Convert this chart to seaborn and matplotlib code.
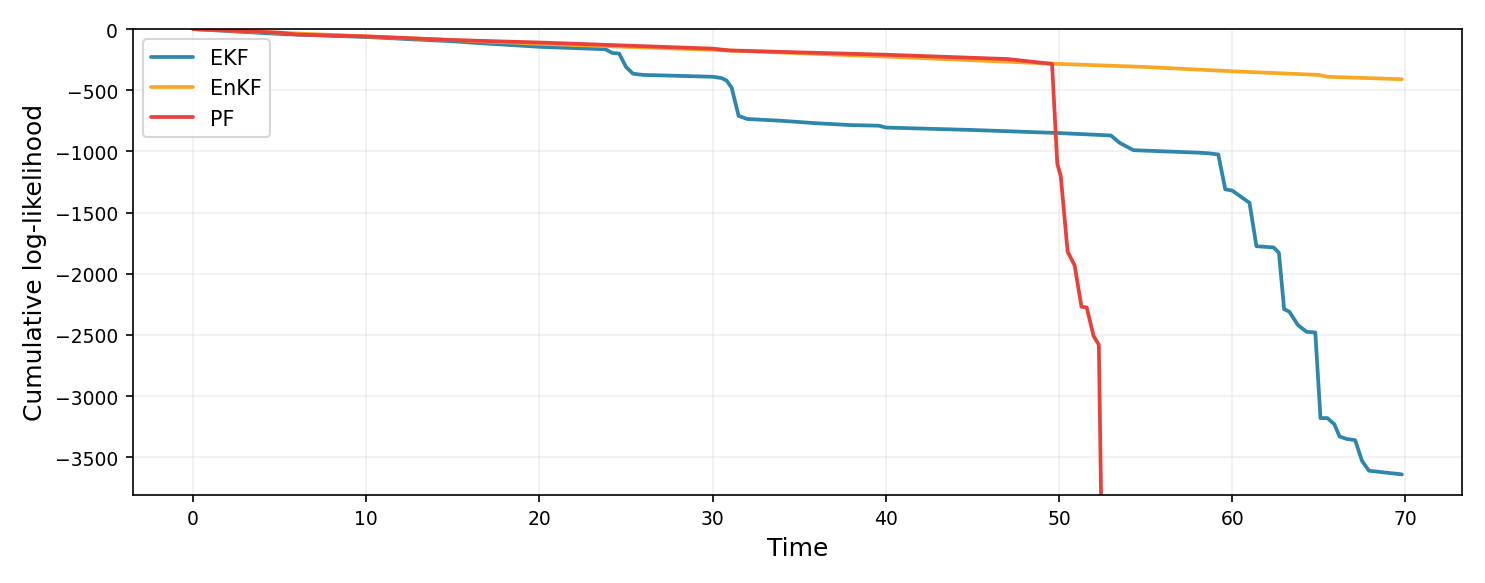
import matplotlib
matplotlib.use("Agg")
import matplotlib.pyplot as plt
import seaborn as sns

ekf_t = [0,5,10,15,16,20,23.8,24.2,24.6,25,25.4,26,30,30.5,30.8,31.1,31.5,32,34,36,38,39.6,40,45,50,53,53.5,54.3,58,58.6,59.2,59.6,60,60.4,61,61.4,62.4,62.7,63,63.3,63.8,64.3,64.8,65.1,65.5,65.9,66.2,66.6,67.1,67.5,67.9,69.8]
ekf_v = [0,-40,-65,-100,-110,-145,-165,-195,-200,-310,-365,-375,-390,-400,-420,-480,-710,-735,-750,-770,-785,-790,-805,-825,-850,-870,-930,-990,-1010,-1015,-1025,-1310,-1320,-1360,-1420,-1775,-1785,-1830,-2290,-2310,-2420,-2475,-2480,-3180,-3180,-3230,-3330,-3350,-3360,-3530,-3610,-3640]
enkf_t = [0,10,20,30,40,50,55,60,65,65.5,69.8]
enkf_v = [0,-60,-120,-170,-225,-285,-310,-345,-375,-390,-410]
pf_t = [0,5,6,10,15,20,24,30,31,40,47,48,49.6,49.9,50.1,50.5,50.9,51.3,51.6,52.0,52.3,52.5]
pf_v = [0,-30,-45,-60,-90,-110,-130,-160,-175,-210,-245,-260,-285,-1100,-1200,-1820,-1930,-2270,-2275,-2510,-2580,-4500]

sns.set_style("ticks")
plt.rcParams.update({"text.color": "black", "axes.labelcolor": "black",
                     "xtick.color": "black", "ytick.color": "black", "axes.edgecolor": "black"})
fig, ax = plt.subplots(figsize=(9.9, 3.893), dpi=150)
for t, v, lab, c in [(ekf_t, ekf_v, "EKF", "#2E86AB"), (enkf_t, enkf_v, "EnKF", "#F9A825"), (pf_t, pf_v, "PF", "#E8413B")]:
    sns.lineplot(x=t, y=v, ax=ax, label=lab, color=c, linewidth=1.8, estimator=None, sort=False)
ax.set_xlim(-3.49, 73.3)
ax.set_ylim(-3805, 0)
ax.set_xlabel("Time", fontsize=12)
ax.set_ylabel("Cumulative log-likelihood", fontsize=12)
ax.tick_params(labelsize=9)
ax.grid(True, alpha=0.3)
ax.legend(loc="upper left", fontsize=10)
fig.tight_layout()
fig.savefig("out.png", dpi=150)
